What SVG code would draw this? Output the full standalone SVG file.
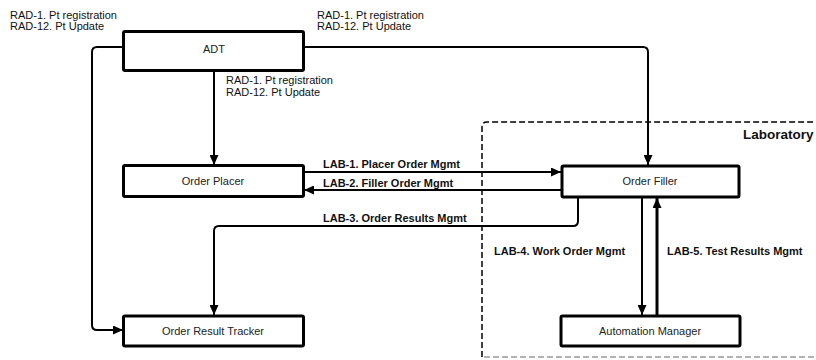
<svg xmlns="http://www.w3.org/2000/svg" width="816" height="360" viewBox="0 0 816 360">
  <style>
    text { font-family: "Liberation Sans", Arial, sans-serif; font-size: 11px; fill: #111; }
    .lbl { font-weight: bold; }
    .node rect { fill: #fff; stroke: #000; stroke-width: 3; }
    .node text { text-anchor: middle; fill: #222; }
    .conn { fill: none; stroke: #000; stroke-width: 2; }
    .thick { stroke-width: 3; }
    .zone { fill: none; stroke: #000; stroke-width: 1.5; stroke-dasharray: 6 3; }
    .zone-bottom { fill: none; stroke: #9a9a9a; stroke-width: 1.5; stroke-dasharray: 6 3; }
  </style>
  <defs>
    <marker id="arrow" markerUnits="userSpaceOnUse" markerWidth="11" markerHeight="9" refX="10" refY="4.5" orient="auto">
      <path d="M0,0 L10,4.5 L0,9 z" fill="#000"/>
    </marker>
  </defs>
  <rect width="816" height="360" fill="#fff"/>

  <!-- Laboratory boundary -->
  <g id="laboratory">
    <path class="zone" d="M482 357 V127 Q482 122 487 122 H816"/>
    <path class="zone-bottom" d="M484 357 H816"/>
    <text class="lbl" x="743" y="139" style="font-size:13.5px">Laboratory</text>
  </g>

  <!-- Connectors -->
  <g id="connectors">
    <path class="conn" d="M214 71 V165" marker-end="url(#arrow)"/>
    <path class="conn" d="M123 47 H97 Q92 47 92 52 V325 Q92 330 97 330 H123" marker-end="url(#arrow)"/>
    <path class="conn" d="M304 47 H643 Q648 47 648 52 V165" marker-end="url(#arrow)"/>
    <path class="conn" d="M304 172 H561" marker-end="url(#arrow)"/>
    <path class="conn" d="M562 190 H304" marker-end="url(#arrow)"/>
    <path class="conn" d="M578 197 V221 Q578 226 573 226 H219 Q214 226 214 231 V315" marker-end="url(#arrow)"/>
    <path class="conn" d="M642 197 V315" marker-end="url(#arrow)"/>
    <path class="conn thick" d="M657 316 V198" marker-end="url(#arrow)"/>

    <text x="10" y="19">RAD-1. Pt registration</text>
    <text x="10" y="30">RAD-12. Pt Update</text>
    <text x="317" y="19">RAD-1. Pt registration</text>
    <text x="317" y="30">RAD-12. Pt Update</text>
    <text x="226" y="84">RAD-1. Pt registration</text>
    <text x="226" y="96">RAD-12. Pt Update</text>

    <text class="lbl" x="323" y="168">LAB-1. Placer Order Mgmt</text>
    <text class="lbl" x="323" y="187">LAB-2. Filler Order Mgmt</text>
    <text class="lbl" x="323" y="222">LAB-3. Order Results Mgmt</text>
    <text class="lbl" x="494" y="255">LAB-4. Work Order Mgmt</text>
    <text class="lbl" x="667" y="255">LAB-5. Test Results Mgmt</text>
  </g>

  <!-- Actors -->
  <g id="adt" class="node">
    <rect x="123.5" y="31.5" width="180" height="39" rx="1.5"/>
    <text x="214" y="53">ADT</text>
  </g>
  <g id="order-placer" class="node">
    <rect x="123.5" y="165.5" width="180" height="31" rx="1.5"/>
    <text x="213" y="185">Order Placer</text>
  </g>
  <g id="order-result-tracker" class="node">
    <rect x="123.5" y="316" width="180" height="30" rx="1.5"/>
    <text x="213" y="335">Order Result Tracker</text>
  </g>
  <g id="order-filler" class="node">
    <rect x="562" y="166" width="177" height="31" rx="1.5"/>
    <text x="650" y="185">Order Filler</text>
  </g>
  <g id="automation-manager" class="node">
    <rect x="561" y="316" width="179" height="30" rx="1.5"/>
    <text x="650" y="335">Automation Manager</text>
  </g>
</svg>
